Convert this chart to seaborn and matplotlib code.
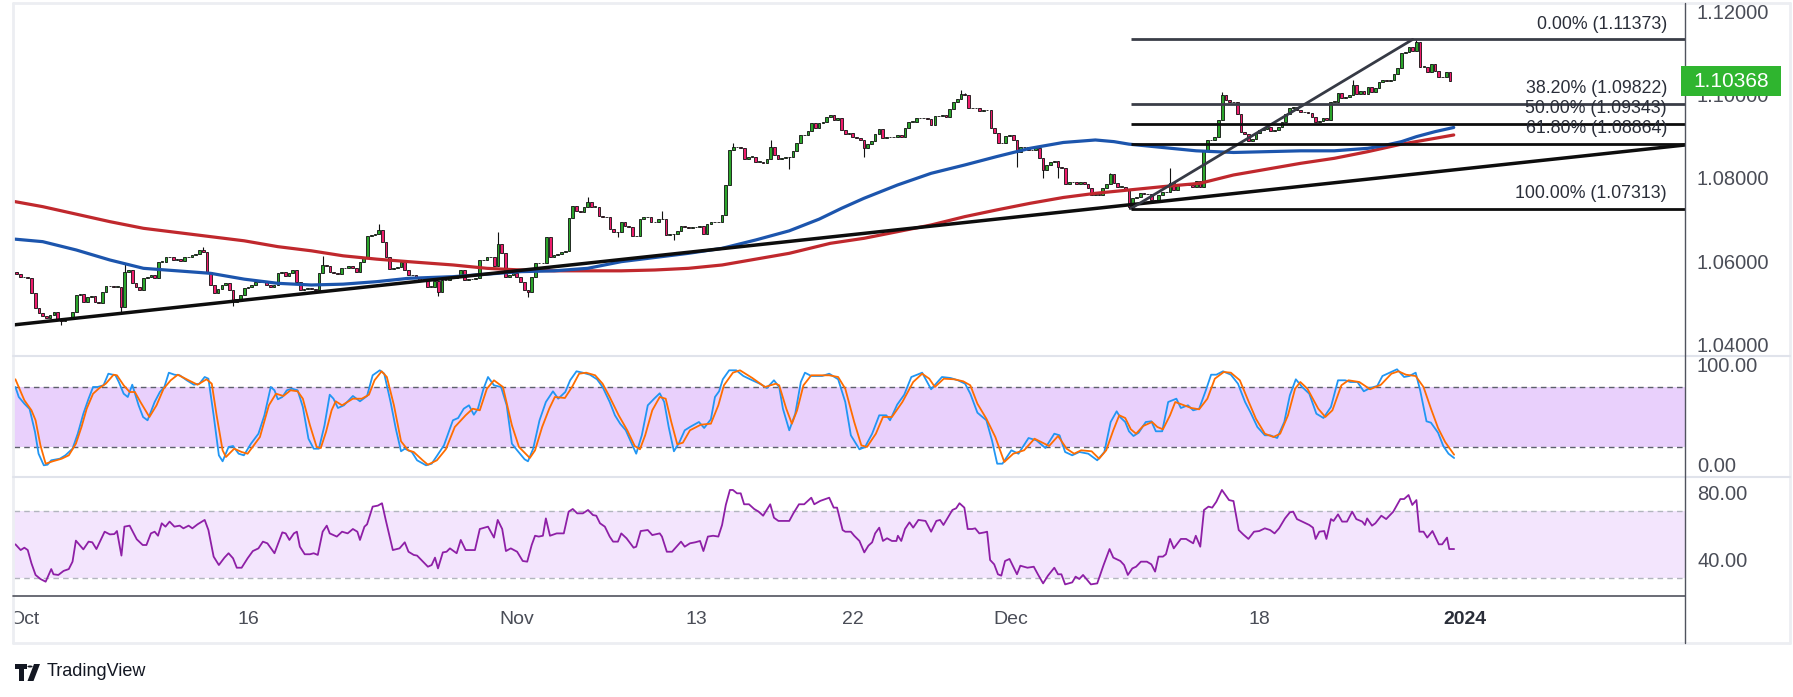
import numpy as np
import matplotlib
matplotlib.use("Agg")
import matplotlib.pyplot as plt
from matplotlib.lines import Line2D
from matplotlib.patches import Rectangle, Polygon, Circle
from matplotlib.transforms import blended_transform_factory
import seaborn as sns

# ---------------- data (4H bars, bar 0 = Oct 2 00:00) ----------------
first_bar = -2
open0_pips = 10578
close_pips = [
    10574, 10568, 10566, 10564, 10528, 10492, 10480, 10474, 10468, 10476, 10484, 10464, 10462, 10466, 10468, 10484,
    10524, 10526, 10508, 10520, 10522, 10508, 10504, 10532, 10546, 10546, 10544, 10544, 10496, 10578, 10584, 10552,
    10544, 10536, 10564, 10568, 10572, 10564, 10604, 10604, 10616, 10614, 10608, 10610, 10606, 10614, 10616, 10620,
    10622, 10632, 10628, 10580, 10548, 10528, 10538, 10548, 10552, 10536, 10508, 10514, 10524, 10540, 10542, 10548,
    10556, 10558, 10554, 10548, 10542, 10548, 10576, 10578, 10570, 10576, 10584, 10556, 10536, 10538, 10540, 10538,
    10536, 10576, 10596, 10594, 10580, 10576, 10574, 10588, 10588, 10594, 10588, 10580, 10602, 10612, 10666, 10668,
    10670, 10680, 10650, 10614, 10586, 10588, 10592, 10604, 10584, 10572, 10572, 10568, 10560, 10560, 10544, 10544,
    10558, 10530, 10560, 10560, 10564, 10564, 10568, 10584, 10560, 10562, 10562, 10564, 10608, 10608, 10616, 10614,
    10594, 10646, 10624, 10568, 10572, 10576, 10566, 10556, 10536, 10532, 10568, 10600, 10600, 10600, 10662, 10616,
    10620, 10622, 10628, 10630, 10708, 10738, 10726, 10724, 10736, 10746, 10736, 10736, 10714, 10712, 10710, 10682,
    10674, 10676, 10698, 10690, 10686, 10666, 10666, 10706, 10710, 10710, 10700, 10698, 10706, 10706, 10668, 10670,
    10670, 10678, 10690, 10688, 10684, 10686, 10688, 10690, 10670, 10694, 10698, 10698, 10698, 10716, 10788, 10872,
    10878, 10878, 10876, 10850, 10856, 10856, 10844, 10844, 10840, 10850, 10878, 10860, 10850, 10852, 10854, 10854,
    10870, 10888, 10908, 10908, 10918, 10936, 10924, 10936, 10938, 10950, 10956, 10944, 10948, 10920, 10910, 10912,
    10904, 10900, 10896, 10876, 10886, 10894, 10910, 10922, 10900, 10902, 10902, 10902, 10908, 10904, 10924, 10940,
    10940, 10948, 10948, 10948, 10946, 10932, 10954, 10954, 10956, 10952, 10970, 10986, 10994, 11006, 11004, 10972,
    10972, 10972, 10966, 10968, 10968, 10924, 10912, 10888, 10888, 10906, 10908, 10896, 10868, 10878, 10878, 10872,
    10872, 10876, 10852, 10824, 10836, 10842, 10846, 10830, 10828, 10790, 10794, 10794, 10790, 10794, 10790, 10780,
    10764, 10766, 10764, 10780, 10790, 10814, 10792, 10784, 10784, 10776, 10736, 10756, 10760, 10768, 10766, 10766,
    10752, 10748, 10764, 10770, 10770, 10792, 10776, 10788, 10790, 10790, 10788, 10784, 10798, 10784, 10872, 10896,
    10896, 10904, 10944, 11004, 10992, 10988, 10986, 10958, 10914, 10910, 10894, 10898, 10912, 10920, 10922, 10926,
    10918, 10920, 10926, 10938, 10958, 10972, 10974, 10968, 10964, 10962, 10960, 10950, 10940, 10942, 10948, 10944,
    10988, 10988, 11008, 10996, 10998, 11004, 11028, 11006, 11014, 11006, 11024, 11012, 11020, 11034, 11040, 11038,
    11040, 11054, 11068, 11104, 11106, 11120, 11110, 11130, 11072, 11072, 11058, 11078, 11062, 11046, 11046, 11060,
    11037,
]
wick_high = [(27, 10600), (48, 10638), (80, 10618), (95, 10694), (127, 10676), (151, 10758), (171, 10726),
             (190, 10888), (200, 10896), (251, 11016), (252, 11008), (291, 10816), (307, 10828), (321, 11010),
             (356, 11040), (373, 11137)]
wick_low = [(10, 10452), (26, 10484), (56, 10498), (111, 10522), (135, 10518), (159, 10664), (174, 10656),
            (205, 10826), (225, 10854), (266, 10830), (273, 10804), (277, 10804), (296, 10731)]

ma_blue = [(-2.4, 10658), (5, 10652), (14, 10632), (23, 10608), (32, 10588), (41, 10582), (50, 10576), (59, 10562),
           (68, 10552), (77, 10548), (85.5, 10550), (94.5, 10556), (103, 10564), (115, 10568), (124, 10574),
           (133, 10580), (142, 10582), (151, 10588), (160, 10604), (169, 10614), (178, 10624), (187, 10636),
           (196, 10656), (205, 10678), (213, 10706), (219, 10732), (225, 10756), (234, 10788), (243, 10816),
           (252, 10836), (260.5, 10856), (269.5, 10876), (278.4, 10890), (287, 10896), (292, 10892), (296, 10886),
           (305, 10878), (314, 10870), (324, 10866), (333, 10868), (342, 10870), (351, 10870), (360, 10876),
           (364, 10882), (369, 10892), (373, 10904), (378, 10916), (383, 10926)]
ma_red = [(-2.4, 10748), (5, 10736), (14, 10718), (23, 10700), (32, 10684), (41, 10674), (50, 10664), (59, 10654),
          (68, 10640), (77, 10630), (85.5, 10618), (94.5, 10610), (103, 10604), (115, 10596), (124, 10588),
          (133, 10584), (142, 10582), (151, 10582), (160, 10582), (169, 10584), (178, 10588), (187, 10596),
          (196, 10610), (205, 10624), (216, 10648), (225, 10660), (234, 10676), (243, 10692), (252, 10712),
          (260.5, 10728), (269.5, 10744), (278.4, 10758), (287, 10768), (296, 10776), (305, 10784), (315, 10792),
          (324, 10812), (333, 10826), (342, 10840), (351, 10852), (360, 10868), (369, 10886), (378, 10900),
          (383, 10908)]

trend_x = [-3, 445]
trend_y = [1.0452, 1.0884]
swing_x = [296.5, 372]
swing_y = [1.07313, 1.11373]
fib_start = 296.5
fib_pct = ["0.00", "38.20", "50.00", "61.80", "100.00"]
fib_levels = [1.11373, 1.09822, 1.09343, 1.08864, 1.07313]
last_price = 1.10368

stoch_k = [(-2.3, 80), (-1.4, 70), (0.1, 63.3), (1.5, 58), (2.95, 35), (3.9, 13.3), (5.3, 1.7), (6.3, 2.3), (7.3, 6.7),
           (8.7, 7.7), (9.6, 8.3), (11.1, 11.7), (13, 18.3), (14.4, 33.3), (15.9, 53.3), (17.3, 68.3), (18.5, 80),
           (19.7, 80), (21.3, 81.7), (22.6, 93.3), (24.5, 91.7), (25.4, 85), (26.7, 73.3), (27.8, 70), (29, 82.3),
           (30.7, 61.7), (31.9, 50), (33.1, 46.7), (35, 65), (36.4, 75), (37.6, 80), (38.8, 94.3), (40.3, 92.3),
           (41.7, 91.7), (43.6, 86.7), (45.5, 82.3), (47, 83.3), (48.4, 90), (49.4, 88.3), (50.8, 51.7), (52.2, 11.7),
           (53.2, 5.7), (54.8, 20), (56, 21), (57.5, 13.3), (58.9, 11.7), (60.8, 23.3), (62.8, 33.3), (64.4, 51.7),
           (66.1, 80), (67.1, 76.7), (68, 67.7), (69.2, 70), (70.4, 76.7), (71.8, 78.3), (73.3, 76.7), (74.7, 60),
           (76.2, 28.3), (77.6, 18.3), (79, 18.3), (80.5, 41.7), (81.9, 72.3), (82.9, 68.3), (84.1, 59), (85.7, 61.7),
           (88.1, 71), (90, 65.7), (91.9, 71), (93.4, 91.7), (95.3, 96.7), (96.5, 93.3), (98.2, 65), (99.6, 38.3),
           (101, 15.7), (102, 18.3), (103.9, 15), (105.3, 6.7), (107.7, 1.7), (109.2, 3.3), (110.6, 11), (112.5, 21.7),
           (114.9, 46.7), (116.3, 49), (117.8, 58.3), (119.2, 61.7), (120.5, 52.3), (121.6, 58.3), (123.1, 78.3),
           (124.3, 90), (125.9, 81.7), (127.8, 80), (129.3, 61.7), (130.7, 23.3), (132.1, 16.7), (134.1, 7.7),
           (135, 5.7), (136.4, 18.3), (138.1, 46.7), (139.8, 65), (141.7, 75.7), (143.1, 68.3), (145, 75),
           (146.3, 86.7), (148, 95.7), (149.7, 94.3), (151.6, 92.3), (153.5, 87.7), (155, 80), (156.9, 65),
           (158.3, 51.7), (159.7, 43.3), (161.2, 36.7), (162.6, 25), (164, 13.3), (165.5, 31.7), (167.1, 61.7),
           (168.8, 68.3), (170.3, 73.7), (171.5, 65), (172.7, 40), (174.1, 15.7), (175.5, 24.3), (177, 36.7),
           (178.4, 40), (180.8, 45), (182.2, 39), (184, 47.7), (185.1, 70), (186.2, 75.7), (187.2, 87.7),
           (188.9, 96.7), (190.8, 96.7), (192.7, 91), (195.1, 86.7), (197.1, 83.3), (199, 79), (200.9, 86.7),
           (202.3, 80), (203.3, 58.3), (205, 36.7), (206.6, 53.3), (208.1, 85), (209.2, 94.3), (210.9, 91),
           (213.8, 91), (215.7, 93.3), (218.1, 87.7), (220, 65), (221.5, 31.7), (223.8, 17.7), (225.3, 20),
           (227.2, 33.3), (229.1, 51.7), (231, 51.7), (232, 46.7), (233.9, 62.3), (235.8, 72.3), (237.7, 90),
           (240.6, 94.3), (243, 77.7), (245.9, 90), (248.2, 89), (250.2, 86.7), (252.1, 83.3), (253.5, 73.3),
           (255.4, 54.3), (257.8, 46.7), (259.3, 26.7), (260.7, 3.3), (262.1, 3.3), (264.5, 16.7), (266.4, 13.3),
           (269.1, 29), (271.2, 26.7), (273.6, 19), (276, 33.3), (277.4, 31.7), (278.9, 15), (280.8, 11.7),
           (282.7, 15), (285.1, 13.3), (287.5, 6.7), (289.4, 15), (291.1, 45), (292.7, 55.7), (293.6, 50), (295, 45),
           (296, 35.7), (297.2, 31), (298.6, 34.3), (300.5, 45), (302, 45.7), (303.2, 35.7), (304.9, 35.7),
           (306.5, 65), (308.7, 68.3), (309.9, 59), (311.8, 61.7), (313.2, 56.7), (314.8, 58.3), (316.6, 76.7),
           (318, 92.3), (319.4, 92.3), (321.2, 95.7), (323.3, 92.3), (325.2, 83.3), (327.1, 65), (328.5, 55),
           (330.4, 40), (332.4, 31.7), (333.8, 31.7), (335.7, 29), (337.6, 45), (339.1, 71.7), (340.7, 87.7),
           (342.4, 80), (344.3, 73.3), (346.2, 53.3), (348.1, 49), (350.1, 60), (352, 86.7), (353.9, 86.7),
           (355.3, 85), (357.2, 85), (358.9, 75.7), (360.6, 79), (362.5, 81), (363.9, 91), (365.8, 94.3),
           (367.8, 97.7), (369.7, 90), (371.1, 91), (372.8, 94.3), (374, 76.7), (375.7, 45.7), (376.9, 44.3),
           (378.8, 34.3), (380.2, 21), (381.6, 13.3), (383.1, 9)]
stoch_d = [(-2.3, 87.7), (0.1, 66.7), (2, 56.7), (3.1, 46.7), (4.4, 21.7), (5.8, 3.3), (7.7, 5.7), (10.1, 8.3),
           (12, 11.7), (13.9, 23.3), (15.4, 40), (16.8, 58.3), (18.5, 73.3), (20.2, 79), (21.9, 83.3), (24, 92.3),
           (24.9, 91.7), (26.7, 81.7), (28.3, 75), (29.7, 75), (31.2, 65), (33.6, 50), (35.5, 61.7), (37.4, 78.3),
           (39.3, 86.7), (41.2, 92.3), (44.1, 86.7), (46.5, 82.3), (48.9, 87.7), (50.3, 83.3), (51.6, 51.7),
           (53.2, 16.7), (54.1, 10), (56.3, 18.3), (58.3, 15), (59.9, 13.3), (63.2, 30), (65.6, 61.7), (67.5, 73.3),
           (69.5, 71), (71.4, 76.7), (73.3, 75.7), (74.7, 68.3), (76.6, 41.7), (78.4, 20), (79.5, 19), (80.9, 35),
           (82.4, 56.7), (83.5, 65.7), (85.2, 61.7), (88.1, 68.3), (90.5, 68.3), (92.4, 72.3), (93.9, 86.7),
           (95.8, 95.7), (97.2, 90), (99.1, 61.7), (101, 25.7), (102.9, 16.7), (104.4, 15), (106.8, 6.7),
           (108.2, 2.3), (110.6, 6.7), (113, 17.7), (115.4, 40), (118.3, 51.7), (120.2, 58.3), (122.1, 56.7),
           (124, 78.3), (125.9, 86.7), (128.3, 80), (130.7, 41.7), (132.6, 20), (135.5, 9), (136.9, 16.7),
           (138.8, 40), (140.7, 58.3), (142.2, 70), (144.9, 69), (146.8, 80), (148.7, 93.3), (150.6, 94.3),
           (153, 91.7), (155, 83.3), (156.9, 70), (159.3, 51.7), (161.6, 36.7), (163.6, 21), (165, 17.7),
           (166.4, 31.7), (168.3, 56.7), (170.3, 70), (171.9, 68.3), (173.4, 45), (175, 22.7), (176.5, 24.3),
           (178.4, 36.7), (181.3, 42.3), (184, 43.3), (186, 61.7), (187.5, 81.7), (189.9, 94.3), (191.8, 96.7),
           (195.1, 89), (198.5, 80), (201.4, 83.3), (202.3, 81.7), (204.2, 58.3), (205.7, 43.3), (207.1, 56.7),
           (208.8, 81.7), (210.9, 91.7), (215.7, 91.7), (218.1, 90), (220, 78.3), (222.4, 45), (224.3, 21.7),
           (225.8, 20), (228.2, 33.3), (230.1, 50), (232.5, 50), (235.3, 65), (238.2, 85), (240.6, 93.3),
           (242.5, 88.3), (244, 80), (246.4, 88.3), (249.2, 87.7), (251.6, 85.7), (253.5, 81.7), (255.4, 63.3),
           (257.8, 48.3), (260.2, 30), (262.6, 5), (265, 13.3), (267.9, 16.7), (270.7, 28.3), (274.6, 21), (277, 31),
           (279.3, 18.3), (281.3, 13.3), (283.2, 16.7), (286, 15.7), (288, 8.3), (289.9, 16.7), (291.8, 36.7),
           (293.4, 51.7), (295, 49), (296.5, 37.7), (297.9, 33.3), (299.8, 41), (302.2, 45), (303.6, 40),
           (305.1, 37.7), (307, 51.7), (308.4, 65), (310.3, 62.3), (312.7, 59), (314.8, 57.7), (317, 68.3),
           (319, 88.3), (321.4, 95), (323.3, 94.3), (325.7, 86.7), (328.1, 65), (330, 48.3), (332.4, 33.3),
           (334.7, 30), (336.5, 33.3), (338.6, 51.7), (340.5, 78.3), (341.9, 85), (343.8, 78.3), (346.7, 58.3),
           (348.6, 50), (350.5, 56.7), (352.9, 81.7), (354.8, 86.7), (357.7, 85), (360.6, 77.7), (363.5, 82.3),
           (366.3, 93.3), (368.2, 95.7), (370.2, 92.3), (372.8, 91), (374.9, 80), (376.9, 58.3), (378.8, 39),
           (380.7, 25), (383.1, 12.3)]
rsi = [(-2.3, 50.2), (-0.9, 46.8), (0.1, 48.2), (1, 46.8), (2, 38.9), (3.1, 32), (4.4, 29.6), (5.8, 28), (7.3, 35.5),
       (7.9, 32.4), (9.2, 32), (10.6, 34.4), (12, 35.5), (13, 39.9), (13.9, 52.4), (15.9, 47.2), (17.3, 51.8),
       (18.3, 51.4), (19.4, 47.4), (21.6, 57.7), (23, 56.1), (24.2, 56.3), (24.9, 58.1), (26.1, 43.5), (26.9, 60.7),
       (28.3, 61.3), (30.2, 53.2), (31.8, 49.8), (32.8, 49.8), (34, 56.7), (35, 57.7), (35.9, 55.3), (36.9, 62.7),
       (37.9, 60.7), (39, 63.7), (40.3, 60.7), (41.7, 61.3), (42.7, 59.7), (44.1, 61.3), (45.1, 59.7), (46.5, 62.1),
       (48.4, 64.7), (49.4, 58.7), (50.8, 42.9), (52.2, 37.9), (53.7, 42.3), (54.8, 44.9), (56, 41.9), (57, 36.3),
       (58.3, 36.3), (59.9, 41.9), (61.3, 46.2), (62.8, 47.8), (64, 51.8), (65.2, 50.8), (67.1, 44.9), (69.2, 57.3),
       (70.1, 56.7), (71.1, 52.8), (72.3, 56.7), (73.1, 57.7), (73.9, 48.8), (75.2, 44.3), (76.6, 44.3),
       (77.6, 44.9), (78.7, 43.9), (80, 57.7), (81.1, 61.3), (81.9, 56.7), (83.8, 54.8), (85.2, 57.7), (86.7, 56.7),
       (88.1, 59.3), (89.3, 57.7), (90, 52.8), (91.2, 60.7), (91.9, 62.1), (93.4, 72.6), (94.8, 73.2), (95.9, 74.6),
       (96.9, 64.7), (98.8, 46.8), (100.6, 47.8), (102, 51.4), (103, 45.8), (104.4, 43.9), (105.3, 43.5),
       (108.2, 36.9), (109.2, 37.9), (110.1, 42.3), (110.9, 35.9), (112.2, 45.4), (113.2, 45.8), (114.1, 47.8),
       (115.9, 44.9), (117, 52.8), (118.3, 46.8), (120.8, 46.8), (122.1, 59.3), (124.3, 60.7), (125.9, 54.2),
       (126.9, 64.7), (128.1, 59.3), (129.1, 46.2), (130.4, 47.8), (132.1, 45.8), (133.6, 40.3), (134.8, 39.9),
       (136, 49.8), (136.9, 55.3), (137.9, 54.8), (139, 55.3), (139.8, 65.6), (140.9, 55.3), (142.7, 56.7),
       (144.6, 56.7), (145.9, 69.6), (147, 71.2), (148.2, 68.6), (149.7, 68.6), (151.1, 70.6), (152.4, 67.6),
       (153.3, 67.2), (154.3, 62.7), (155.6, 60.7), (156.9, 54.8), (157.8, 51.8), (159.1, 51.8), (160, 56.7),
       (161.4, 53.8), (163.3, 48.2), (164, 48.8), (165.2, 58.1), (167.1, 58.7), (168.3, 55.7), (170.3, 56.7),
       (170.9, 54.8), (172.2, 45.8), (173.6, 45.8), (174.8, 48.8), (176, 51.8), (177, 48.8), (178.4, 50.8),
       (179.8, 51.4), (181.1, 52.2), (182, 46.2), (183.2, 54.8), (184.6, 55.3), (186, 54.8), (187, 61.7),
       (188, 73.6), (189.1, 82.5), (189.9, 82.5), (191, 80.5), (192, 80.5), (192.9, 74), (194.2, 74), (195.6, 71.2),
       (196.8, 69.6), (198, 67.2), (199.9, 74), (200.9, 66), (202.1, 64.1), (205, 64.1), (206.1, 68.6), (207.6, 74),
       (209, 74), (210.9, 77.9), (211.7, 74), (213.3, 76), (215.7, 77.9), (216.9, 72), (217.8, 72), (219.3, 58.7),
       (220, 57.7), (221.5, 57.7), (222.4, 55.3), (223.8, 52.2), (225.1, 45.4), (226.2, 49.4), (227.2, 51.4),
       (228, 56.7), (229.1, 60.1), (230.1, 52.2), (231.2, 53.8), (232.5, 52.2), (233.7, 52.2), (234.1, 55.3),
       (235, 52.2), (236, 59.3), (237.2, 63.3), (238.2, 60.1), (239.6, 64.7), (241.5, 64.1), (243, 57.7),
       (244.4, 64.1), (245.4, 64.7), (246.3, 61.7), (248.7, 70.6), (249.7, 71.6), (250.6, 74.6), (251.9, 72),
       (252.8, 59.3), (254, 59.3), (254.8, 59.7), (255.9, 56.7), (257.3, 57.3), (258, 57.7), (258.8, 40.9),
       (259.9, 38.3), (260.9, 32.4), (261.8, 31.6), (262.8, 40.3), (264, 41.5), (266, 32.4), (266.9, 37.5),
       (268.8, 36.3), (270.5, 36.9), (271.7, 32), (273, 27), (274.3, 31.6), (276, 36.3), (277, 32.4), (277.9, 32.4),
       (278.9, 26.4), (280.8, 27.6), (281.7, 31), (282.7, 29.6), (283.7, 32), (284.6, 29.6), (285.8, 26.4),
       (287.5, 27), (289.2, 37.9), (290.8, 47.4), (291.8, 42.3), (293.7, 40.3), (294.7, 37.9), (295.7, 32),
       (296.9, 35.9), (297.9, 36.9), (299.2, 39.9), (300.8, 39.9), (302, 38.3), (303, 34), (303.9, 42.9),
       (305.1, 42.9), (305.9, 44.3), (307, 53.4), (308, 47.8), (309.9, 53.4), (311.3, 53.4), (313.2, 50.8),
       (313.9, 55.3), (315.1, 48.8), (316.1, 70.6), (317.3, 72.6), (318.3, 72), (319.4, 75.5), (320.9, 82.5),
       (322.8, 76.5), (324, 75.9), (325.4, 58.7), (326.6, 56.1), (328, 53.4), (329.5, 57.7), (330.9, 58.1),
       (332.4, 59.7), (333.8, 58.7), (335, 56.7), (336.2, 59.7), (337.8, 65.6), (339.1, 69.2), (340, 69.6),
       (341, 65.2), (342.4, 63.7), (344.3, 61.7), (345.3, 60.1), (346, 53.4), (347, 57.7), (348.3, 58.1),
       (348.9, 53.4), (350.1, 65.2), (350.8, 64.1), (352, 68), (353.1, 63.7), (354.4, 63.7), (355.8, 69.6),
       (356.9, 65.2), (358.5, 63.7), (359.2, 61.7), (359.8, 65.6), (361.1, 61.3), (362, 62.7), (363.6, 67.2),
       (364.9, 65.2), (366.8, 69.6), (368.7, 77.1), (369.7, 77.1), (370.9, 79.5), (371.9, 73.6), (373, 76.5),
       (373.8, 57.7), (374.9, 57.7), (375.9, 54.2), (377.3, 58.1), (379, 50.2), (379.9, 50.2), (381.2, 54.2),
       (381.8, 47.4), (383.1, 47.4)]

tick_bars = [0, 60, 132, 180, 222, 264.4, 331, 386]
tick_labels = ["Oct", "16", "Nov", "13", "22", "Dec", "18", "2024"]
price_ticks = [1.04, 1.06, 1.08, 1.10, 1.12]
stoch_ticks = [0, 100]
rsi_ticks = [40, 80]

# ---------------- layout (pixels of a 1793x697 canvas) ----------------
W, H = 1793, 697
PX0, BAR_PX = 24, 3.733          # x pixel of bar 0, pixels per bar
L, R = 14, 1685                 # plot area left / price-axis x
LBL_X = (1697 - L) / (R - L)    # left edge of right-hand axis labels
fx = lambda px: px / W
fy = lambda py: 1 - py / H

sns.set_theme(style="white")
plt.rcParams["font.family"] = ["Liberation Sans", "DejaVu Sans"]

fig = plt.figure(figsize=(W / 100, H / 100), dpi=100)
fig.patch.set_facecolor("white")


def pane(top, bottom):
    a = fig.add_axes([fx(L), fy(bottom), fx(R) - fx(L), fy(top) - fy(bottom)])
    a.set_xlim((L - PX0) / BAR_PX, (R - PX0) / BAR_PX)
    a.set_facecolor("white")
    for s in a.spines.values():
        s.set_visible(False)
    a.set_xticks([])
    a.set_yticks([])
    return a


ax = pane(4, 356)
ax_st = pane(356, 477)
ax_rsi = pane(477, 596)
ax_t = pane(596, 643)

ax.set_ylim(1.12 - (356 - 13.3) / 4167, 1.12 + (13.3 - 4) / 4167)
ax_st.set_ylim(-10, 111)
ax_rsi.set_ylim(19.5, 90.2)
ax_t.set_ylim(0, 1)

# ---------------- candles ----------------
close = np.array(close_pips) / 1e4
opens = np.r_[open0_pips / 1e4, close[:-1]]
bars = np.arange(first_bar, first_bar + len(close))
highs = np.maximum(opens, close)
lows = np.minimum(opens, close)
for b, v in wick_high:
    highs[b - first_bar] = max(highs[b - first_bar], v / 1e4)
for b, v in wick_low:
    lows[b - first_bar] = min(lows[b - first_bar], v / 1e4)

up = close >= opens
body_col = np.where(up, "#2ba52b", "#ee1d6c")
ax.vlines(bars, lows, highs, color="#111111", lw=0.8, zorder=2)
ax.bar(bars, np.maximum(np.abs(close - opens), 0.00005), bottom=np.minimum(opens, close), width=0.72,
       color=body_col, edgecolor="#111111", linewidth=0.6, zorder=2.5)

# moving averages
bx, by = zip(*ma_blue)
rx, ry = zip(*ma_red)
sns.lineplot(x=list(rx), y=np.array(ry) / 1e4, ax=ax, color="#c0282d", lw=2.3, sort=False, estimator=None, zorder=3)
sns.lineplot(x=list(bx), y=np.array(by) / 1e4, ax=ax, color="#1c55ad", lw=2.3, sort=False, estimator=None, zorder=3)

# trendlines + fibonacci
ax.plot(trend_x, trend_y, color="#0d0d0d", lw=2.5, zorder=4, solid_capstyle="butt")
ax.plot(swing_x, swing_y, color="#363a45", lw=2.0, zorder=4)
xr = (R - PX0) / BAR_PX
fib_cols = ["#3a3d47", "#3a3d47", "#0d0d0d", "#0d0d0d", "#0d0d0d"]
lbl_tf = blended_transform_factory(ax.transAxes, ax.transData)
for pct, lvl, c in zip(fib_pct, fib_levels, fib_cols):
    ax.hlines(lvl, fib_start, xr, color=c, lw=2.0, zorder=4)
    ax.annotate(f"{pct}% ({lvl:.5f})", xy=(1 - 18 / (R - L), lvl), xycoords=lbl_tf, xytext=(0, 11),
                textcoords="offset points", ha="right", va="center", fontsize=12.8, color="#2a2e39", zorder=5)

for lvl in price_ticks:
    ax.text(LBL_X, lvl, f"{lvl:.5f}", transform=lbl_tf, ha="left", va="center",
            fontsize=14.5, color="#4a4d57", clip_on=False)

# ---------------- stochastic ----------------
ax_st.axhspan(20, 80, color="#e9d0fc", lw=0, zorder=0)
for v in (20, 80):
    ax_st.axhline(v, color="#5d606b", lw=1.0, ls=(0, (4, 3)), zorder=1)
kx, ky = zip(*stoch_k)
dx, dy = zip(*stoch_d)
sns.lineplot(x=list(kx), y=list(ky), ax=ax_st, color="#2196f3", lw=1.3, sort=False, estimator=None, zorder=3)
sns.lineplot(x=list(dx), y=list(dy), ax=ax_st, color="#ff6d00", lw=1.3, sort=False, estimator=None, zorder=3)
st_tf = blended_transform_factory(ax_st.transAxes, ax_st.transData)
for v in stoch_ticks:
    ax_st.text(LBL_X, v, f"{v:.2f}", transform=st_tf, ha="left", va="center",
               fontsize=14.5, color="#4a4d57", clip_on=False)

# ---------------- RSI ----------------
ax_rsi.axhspan(30, 70, color="#f3e5fd", lw=0, zorder=0)
for v in (30, 70):
    ax_rsi.axhline(v, color="#b2b5be", lw=1.0, ls=(0, (4, 3)), zorder=1)
qx, qy = zip(*rsi)
sns.lineplot(x=list(qx), y=list(qy), ax=ax_rsi, color="#8e1fa6", lw=1.3, sort=False, estimator=None, zorder=3)
rs_tf = blended_transform_factory(ax_rsi.transAxes, ax_rsi.transData)
for v in rsi_ticks:
    ax_rsi.text(LBL_X, v, f"{v:.2f}", transform=rs_tf, ha="left", va="center",
                fontsize=14.5, color="#4a4d57", clip_on=False)

for a in (ax, ax_st, ax_rsi):
    a.set_xlabel("")
    a.set_ylabel("")
    if a.get_legend() is not None:
        a.get_legend().remove()

# ---------------- time axis ----------------
for b, t in zip(tick_bars, tick_labels):
    ax_t.text(b, 0.5, t, ha="center", va="center", fontsize=14, clip_on=True,
              color="#2a2e39" if t == "2024" else "#4a4d57", fontweight="bold" if t == "2024" else "normal")

# ---------------- frame ----------------
def fline(x0, y0, x1, y1, c, lw):
    fig.add_artist(Line2D([fx(x0), fx(x1)], [fy(y0), fy(y1)], color=c, lw=lw, zorder=10))


fline(13, 3, 1790, 3, "#eceef2", 2.0)
fline(13, 643, 1790, 643, "#eceef2", 2.0)
fline(13, 3, 13, 643, "#eceef2", 2.0)
fline(1790, 3, 1790, 643, "#eceef2", 2.0)
fline(13, 356, 1790, 356, "#e0e3eb", 1.5)
fline(13, 477, 1790, 477, "#e0e3eb", 1.5)
fline(13, 596, R, 596, "#50535e", 1.2)
fline(R, 3, R, 643, "#50535e", 1.0)

# current price tag
yp = fig.transFigure.inverted().transform(ax.transData.transform((0, last_price)))[1]
fig.add_artist(Rectangle((fx(1681), yp - 15 / H), fx(1781) - fx(1681), 30 / H, transform=fig.transFigure,
                         facecolor="#2fb52f", edgecolor="none", zorder=11))
fig.text(fx(1731), yp, f"{last_price:.5f}", ha="center", va="center", fontsize=15, color="white", zorder=12)

# TradingView logo
logo = [Rectangle((fx(15), fy(669)), fx(12), 5 / H),
        Rectangle((fx(19), fy(681)), fx(4.5), 12 / H),
        Circle((fx(30), fy(666.5)), 2.6 / W),
        Polygon([(fx(34), fy(664)), (fx(40), fy(664)), (fx(33.5), fy(681)), (fx(27.5), fy(681))])]
for p in logo:
    p.set_transform(fig.transFigure)
    p.set_facecolor("#131722")
    p.set_edgecolor("none")
    fig.add_artist(p)
fig.text(fx(47), fy(672), "TradingView", ha="left", va="center", fontsize=13, color="#131722")

fig.savefig("out.png", dpi=100, facecolor="white")
